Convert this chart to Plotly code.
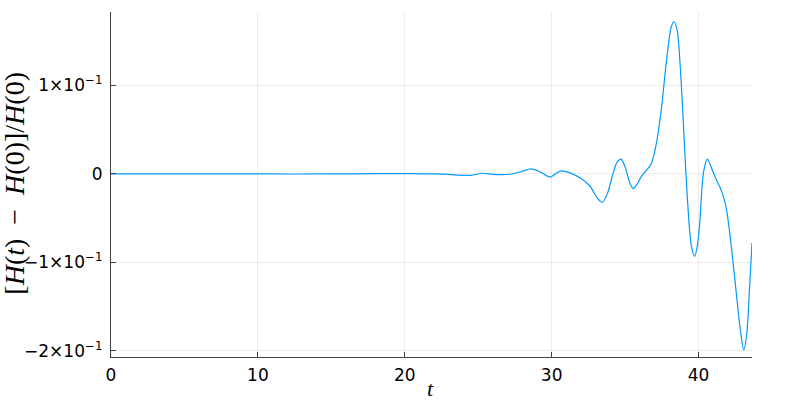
import plotly.graph_objects as go

t = [0, 5, 10, 15, 18, 20, 21, 22, 23, 24, 24.6, 25.3, 26, 26.7, 27.3, 28, 28.6, 29.2,
     29.9, 30.3, 30.65, 31.2, 31.9, 32.6, 33.1, 33.45, 33.8, 34.17, 34.45, 34.72, 35.0,
     35.3, 35.55, 35.8, 36.1, 36.44, 36.77, 37.1, 37.46, 37.8, 38.14, 38.32, 38.54, 38.8,
     39.05, 39.27, 39.5, 39.73, 39.9, 40.07, 40.34, 40.6, 40.97, 41.25, 41.54, 41.88,
     42.22, 42.56, 42.86, 43.08, 43.3, 43.46, 43.64]
dH = [0, 0, 0, 0, 0.0003, 0.0005, 0.0002, 0.0, -0.0005, -0.0015, -0.0012, 0.0008, -0.0005,
      -0.0008, 0.0, 0.003, 0.0057, 0.0025, -0.0036, 0.0005, 0.0035, 0.0015, -0.004, -0.0136,
      -0.027, -0.032, -0.022, 0.0, 0.013, 0.0167, 0.008, -0.009, -0.0165, -0.012, -0.003,
      0.004, 0.011, 0.032, 0.072, 0.125, 0.166, 0.172, 0.1625, 0.109, 0.03, -0.035, -0.08,
      -0.093, -0.083, -0.058, 0.002, 0.0167, 0.003, -0.008, -0.018, -0.038, -0.08, -0.133,
      -0.178, -0.199, -0.178, -0.133, -0.078]

x_ticks = [0, 10, 20, 30, 40]
y_ticks = [-0.2, -0.1, 0, 0.1]
y_tick_labels = ["−2×10<sup>−1</sup>", "−1×10<sup>−1</sup>", "0", "1×10<sup>−1</sup>"]

fig = go.Figure()
fig.add_trace(go.Scatter(x=t, y=dH, mode="lines",
                         line=dict(color="#009AFA", width=1.2, shape="spline", smoothing=0.8),
                         showlegend=False, hoverinfo="skip"))

axis_common = dict(showline=True, linecolor="#404040", linewidth=1.2, mirror=False,
                   ticks="inside", ticklen=5, tickcolor="#404040",
                   showgrid=True, gridcolor="rgba(0,0,0,0.07)", gridwidth=1,
                   zeroline=False, tickfont=dict(family="DejaVu Sans", size=17, color="#000"))

fig.update_xaxes(range=[0, 43.64], tickvals=x_ticks, ticklabelstandoff=2, **axis_common)
fig.update_yaxes(range=[-0.2068, 0.183], tickvals=y_ticks, ticktext=y_tick_labels,
                 ticklabelstandoff=4, **axis_common)

fig.add_annotation(text="[<i>H</i>(<i>t</i>)\u2002−\u2002<i>H</i>(0)]/<i>H</i>(0)", textangle=-90,
                   xref="paper", yref="paper", x=-0.151, y=0.503, xanchor="center", yanchor="middle",
                   showarrow=False, font=dict(family="Liberation Serif", size=28, color="#000"))
fig.add_annotation(text="<i>t</i>", xref="paper", yref="paper", x=0.498, y=-0.09,
                   xanchor="center", yanchor="middle", showarrow=False,
                   font=dict(family="Liberation Serif", size=22, color="#000"))

fig.update_layout(width=800, height=400, margin=dict(l=111, r=48, t=12, b=43),
                  plot_bgcolor="white", paper_bgcolor="white", hovermode=False)

# remove the default 8px page margin so the 800x400 figure fills the window exactly
fig.write_html("out.html", config={"displayModeBar": False},
               post_script="document.body.style.margin='0';")
